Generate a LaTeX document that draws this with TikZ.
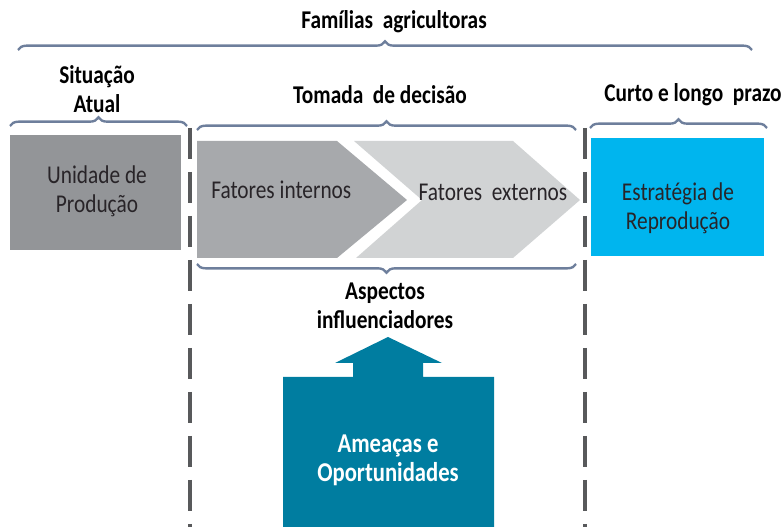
\documentclass[tikz,border=0pt]{standalone}
\usepackage{fontspec}
\usepackage{graphicx}
\setmainfont{Carlito}
\usetikzlibrary{decorations.pathreplacing}

\definecolor{braceblue}{RGB}{110,127,156}
\definecolor{unitgray}{RGB}{147,149,152}
\definecolor{intgray}{RGB}{167,169,172}
\definecolor{extgray}{RGB}{209,211,212}
\definecolor{reprocyan}{RGB}{0,181,238}
\definecolor{threatteal}{RGB}{0,125,160}
\definecolor{sepgray}{RGB}{88,89,91}
\definecolor{boxtext}{RGB}{40,36,40}

\newcommand{\tallbox}[1]{\scalebox{1}[1.2]{\begin{tabular}{@{}c@{}}#1\end{tabular}}}

\tikzset{
  bracket/.style={draw=braceblue, line width=1.8pt, decorate, decoration={brace, amplitude=6.5pt}},
  sepline/.style={draw=sepgray, line width=3pt, dash pattern=on 23pt off 10pt},
  headtxt/.style={inner sep=0.75pt, font=\fontsize{16}{18}\selectfont\bfseries},
  boxtxt/.style={inner sep=0.75pt, text=boxtext, font=\fontsize{16}{18}\selectfont}
}

\begin{document}
\begin{tikzpicture}[x=0.75pt,y=0.75pt,yscale=-1,xscale=1]

\useasboundingbox (0,0) rectangle (783,527);

% braces
\draw [bracket]   (18,50) -- (752,50) ;

\draw [bracket]   (10,126) -- (187,126) ;

\draw [bracket]   (197,130) -- (576,130) ;

\draw [bracket]   (590,128) -- (767,128) ;

\draw [bracket]   (576,264) -- (197,264) ;

% dashed separators
\draw [sepline]   (190,128) -- (190,527) ;

\draw [sepline]   (585,128) -- (585,527) ;

% boxes
\fill [unitgray]   (10,135) rectangle (181,250) ;

\fill [intgray]   (197,141) -- (337,141) -- (407,200) -- (337,258) -- (197,258) -- cycle ;

\fill [extgray]   (354,141) -- (513,141) -- (580,200) -- (513,258) -- (356,258) -- (422,200) -- cycle ;

\fill [reprocyan]   (591,138) rectangle (764,256) ;

\fill [threatteal]   (283,527) -- (283,377) -- (353,377) -- (353,363) -- (335,363) -- (388,337) -- (442,363) -- (423,363) -- (423,377) -- (494,377) -- (494,527) -- cycle ;

% labels
\node [headtxt] (familias) at (394,23) {\tallbox{Famílias\ \ agricultoras}};

\node [headtxt] (atual) at (97,92) {\tallbox{Situação\\Atual}};

\node [headtxt] (decisao) at (380,98) {\tallbox{Tomada\ \ de decisão}};

\node [headtxt] (prazo) at (693,96) {\tallbox{Curto e longo\ \ prazo}};

\node [boxtxt] (unidade) at (97,192) {\tallbox{Unidade de\\Produção}};

\node [boxtxt, anchor=west] (internos) at (210,193) {\tallbox{Fatores internos}};

\node [boxtxt] (externos) at (493,195) {\tallbox{Fatores\ \ externos}};

\node [boxtxt] (estrategia) at (678,209) {\tallbox{Estratégia de\\Reprodução}};

\node [headtxt] (aspectos) at (385,308) {\tallbox{Aspectos\\influenciadores}};

\node [headtxt, text=white, font=\fontsize{17}{18}\selectfont\bfseries] (ameacas) at (388,461) {\tallbox{Ameaças e\\Oportunidades}};

\end{tikzpicture}
\end{document}
